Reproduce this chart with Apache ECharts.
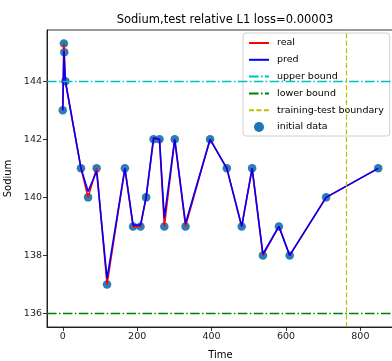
<!DOCTYPE html>
<html>
<head>
<meta charset="utf-8">
<script src="https://cdn.jsdelivr.net/npm/echarts@6/dist/echarts.min.js"></script>
<style>html,body{margin:0;padding:0;background:#fff}#c{width:392px;height:361px}</style>
</head>
<body>
<div id="c"></div>
<script>
// ---- data ----
var times = [0, 3, 4, 7, 49, 68, 91, 119, 167, 189, 209, 224, 244, 260, 273, 301, 330, 396, 441, 481, 509, 538, 581, 610, 708, 848];
var realValues = [143, 145.3, 145, 144, 141, 140, 141, 137, 141, 139, 139, 140, 142, 142, 139, 142, 139, 142, 141, 139, 141, 138, 139, 138, 140, 141];
var predValues = [143, 145.05, 145, 144, 141, 140.2, 140.9, 137.2, 141, 139.05, 139.05, 140, 142.05, 142, 139.3, 142, 139.1, 142, 141, 139, 141, 138.05, 139, 138, 140, 141];
var upperBound = 144;
var lowerBound = 136;
var boundaryTime = 763;
var xTicks = [0, 200, 400, 600, 800];
var yTicks = [136, 138, 140, 142, 144];
var titleText = 'Sodium,test relative L1 loss=0.00003';

function pairs(xs, ys) { return xs.map(function (x, i) { return [x, ys[i]]; }); }

var FONT = '"DejaVu Sans", sans-serif';
var chart = echarts.init(document.getElementById('c'), null, { renderer: 'canvas' });
var dashDot = [9.6, 2.4, 1.5, 2.4];
var hideSym = { opacity: 0 };
chart.setOption({
  animation: false,
  backgroundColor: '#fff',
  title: {
    text: titleText, left: 220, top: 9, textAlign: 'center',
    textStyle: { fontFamily: FONT, fontSize: 11.5, fontWeight: 'normal', color: '#000' }
  },
  grid: { left: 47, top: 30, right: -2, bottom: 34, containLabel: false, outerBoundsMode: 'none',
    show: true, borderColor: '#000', borderWidth: 0.8, backgroundColor: 'transparent' },
  xAxis: {
    type: 'value', min: -42.4, max: 890.4,
    name: 'Time', nameLocation: 'middle', nameGap: 23,
    nameTextStyle: { fontFamily: FONT, fontSize: 10, color: '#000' },
    splitLine: { show: false },
    axisLine: { show: true, onZero: false, lineStyle: { color: '#000', width: 0.8 } },
    axisTick: { show: true, length: 4, lineStyle: { color: '#000', width: 0.8 }, customValues: xTicks },
    axisLabel: { fontFamily: FONT, fontSize: 9.5, color: '#222', margin: 5, customValues: xTicks }
  },
  yAxis: {
    type: 'value', min: 135.535, max: 145.765,
    name: 'Sodium', nameLocation: 'middle', nameGap: 31, nameRotate: 90,
    nameTextStyle: { fontFamily: FONT, fontSize: 10, color: '#000' },
    splitLine: { show: false },
    axisLine: { show: true, onZero: false, lineStyle: { color: '#000', width: 0.8 } },
    axisTick: { show: true, length: 4, lineStyle: { color: '#000', width: 0.8 }, customValues: yTicks },
    axisLabel: { fontFamily: FONT, fontSize: 9.5, color: '#222', margin: 5, customValues: yTicks }
  },
  legend: {
    orient: 'vertical', left: 243, top: 33,
    backgroundColor: 'rgba(255,255,255,0.85)', borderColor: '#d0d0d0', borderWidth: 1, borderRadius: 3,
    padding: [5, 6, 4, 5], itemWidth: 20, itemHeight: 10, itemGap: 6.8,
    textStyle: { fontFamily: FONT, fontSize: 9.5, color: '#000', padding: [0, 0, 0, 3] },
    data: [
      { name: 'real', itemStyle: hideSym }, { name: 'pred', itemStyle: hideSym },
      { name: 'upper bound', itemStyle: hideSym }, { name: 'lower bound', itemStyle: hideSym },
      { name: 'training-test boundary', itemStyle: hideSym },
      { name: 'initial data', icon: 'circle', itemStyle: { color: '#1f77b4', opacity: 1 } }
    ]
  },
  series: [
    {
      name: 'initial data', type: 'scatter', z: 1, symbolSize: 8.5,
      itemStyle: { color: '#1f77b4', opacity: 0.95 },
      data: pairs(times, realValues)
    },
    {
      name: 'real', type: 'line', z: 3, symbol: 'none', showSymbol: false,
      lineStyle: { color: '#ff0000', width: 1.6 }, itemStyle: { color: '#ff0000' },
      data: pairs(times, realValues)
    },
    {
      name: 'pred', type: 'line', z: 4, symbol: 'none', showSymbol: false,
      lineStyle: { color: '#0000ff', width: 1.6 }, itemStyle: { color: '#0000ff' },
      data: pairs(times, predValues)
    },
    {
      name: 'upper bound', type: 'line', z: 2, symbol: 'none', data: [],
      lineStyle: { color: '#00bfbf', width: 1.4, type: dashDot }, itemStyle: { color: '#00bfbf' },
      markLine: { silent: true, symbol: 'none', label: { show: false },
        lineStyle: { color: '#00bfbf', width: 1.4, type: dashDot }, data: [{ yAxis: upperBound }] }
    },
    {
      name: 'lower bound', type: 'line', z: 2, symbol: 'none', data: [],
      lineStyle: { color: '#008000', width: 1.4, type: dashDot }, itemStyle: { color: '#008000' },
      markLine: { silent: true, symbol: 'none', label: { show: false },
        lineStyle: { color: '#008000', width: 1.4, type: dashDot }, data: [{ yAxis: lowerBound }] }
    },
    {
      name: 'training-test boundary', type: 'line', z: 2, symbol: 'none', data: [],
      lineStyle: { color: '#bfbf00', width: 1.2, type: [5, 2.4] }, itemStyle: { color: '#bfbf00' },
      markLine: { silent: true, symbol: 'none', label: { show: false },
        lineStyle: { color: '#bfbf00', width: 1.2, type: [5, 2.4] }, data: [{ xAxis: boundaryTime }] }
    }
  ]
});
</script>
</body>
</html>
